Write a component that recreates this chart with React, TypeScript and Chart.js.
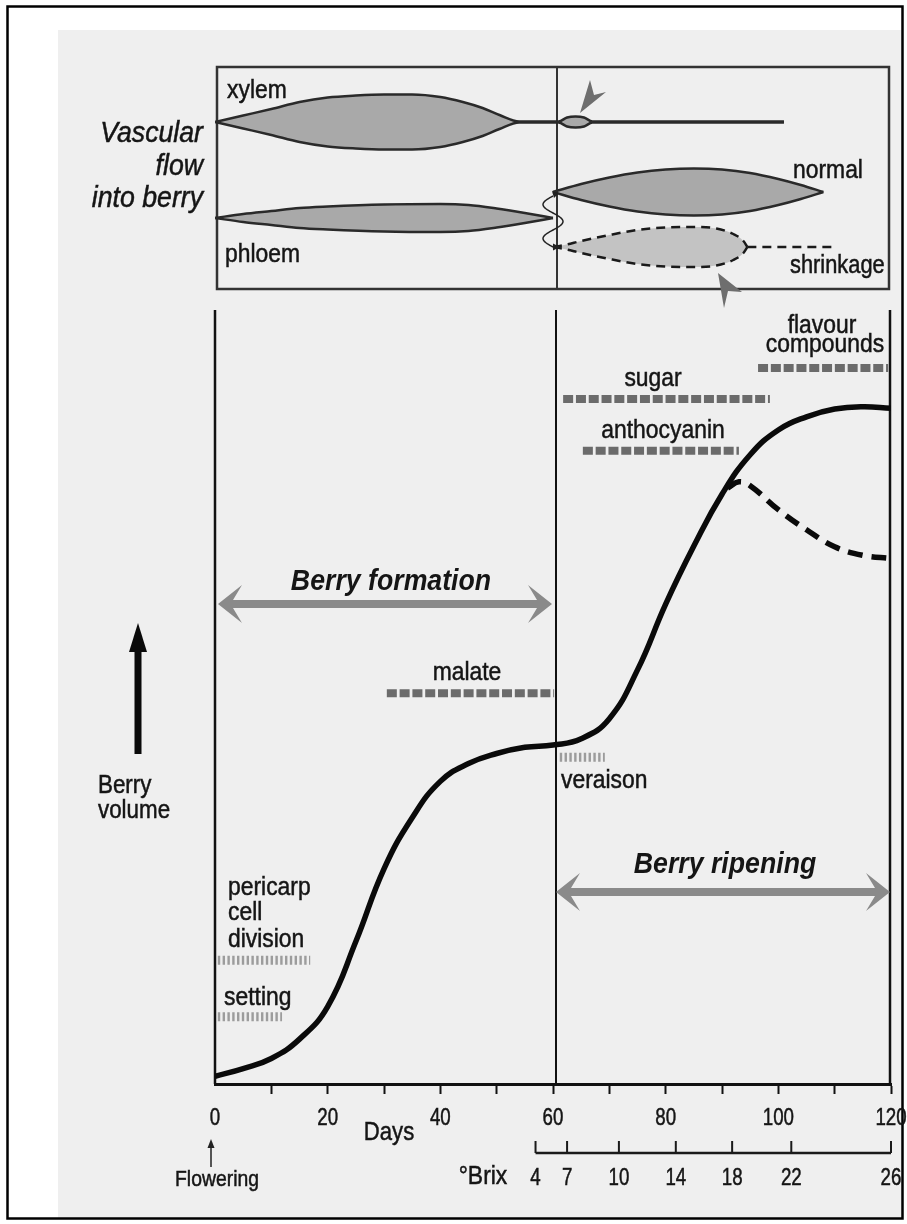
import React, { useEffect, useRef } from 'react';
import { Chart, registerables } from 'chart.js';

Chart.register(...registerables);

// ---------------- DATA ----------------
// Berry volume (relative units; 100 = top of the lower panel)
const volumeDays = [0, 5, 10, 15, 20, 25, 30, 35, 40, 45, 50, 55, 60, 65, 70, 75, 80, 85, 90, 95, 100, 105, 110, 115, 120];
const berryVolume = [1.0, 2.0, 3.3, 5.8, 10.0, 18.4, 27.8, 34.4, 39.1, 41.4, 42.7, 43.5, 43.8, 44.6, 47.2, 53.5, 62.0, 69.5, 76.2, 81.3, 84.5, 86.2, 87.2, 87.5, 87.3];

// Berry volume with shrinkage (dashed branch)
const shrinkBranchDays = [91, 93, 95, 100, 105, 110, 115, 120];
const shrinkBranchVolume = [77.0, 77.8, 77.3, 74.2, 71.6, 69.4, 68.3, 67.9];

// Vascular flow magnitudes (half-width of each band)
const xylemDays = [0, 5, 10, 15, 20, 25, 30, 35, 40, 44, 47.5, 50.5, 54, 61, 62.5, 64, 65.5, 67, 101];
const xylemFlow = [0, 6.5, 13, 20, 24.5, 26.5, 27.5, 27.5, 25, 20, 14, 7, 0.5, 0.5, 4.5, 5.5, 4.5, 0.5, 0.5];

const phloemDays = [0, 5, 10, 15, 20, 30, 40, 45, 50, 55, 60];
const phloemFlow = [0, 4, 7, 10, 11.5, 13.5, 14, 13, 9.5, 5, 0];

const normalDays = [60, 65, 70, 75, 80, 85, 90, 95, 100, 104, 108];
const normalFlow = [0, 8, 14.5, 19.5, 22.5, 23.5, 22.5, 19, 13, 7, 0];

const shrinkDays = [60, 62, 65, 70, 75, 80, 85, 89, 92, 93.8, 94.5];
const shrinkFlow = [0, 2, 6, 12, 17, 19.5, 20, 18.5, 13, 6, 0];
const shrinkTailDays = [94.5, 109.5];

// Developmental processes (timing in days)
const processNames = ['flavour compounds', 'sugar', 'anthocyanin', 'malate', 'veraison', 'pericarp cell division', 'setting'];
const processStart = [96.4, 61.8, 65.3, 30.5, 61.2, 0.5, 0.5];
const processEnd = [119.5, 98.5, 93.0, 60.2, 69.2, 16.9, 11.9];

// Stages
const stageNames = ['Berry formation', 'Berry ripening'];
const stageStart = [0, 60];
const stageEnd = [60, 120];

// Axes
const dayTickLabels = [0, 20, 40, 60, 80, 100, 120];
const brixLabels = [4, 7, 10, 14, 18, 22, 26];
const brixDays = [56.9, 62.5, 71.7, 81.8, 91.8, 102.3, 120];

// ---------------- LAYOUT ----------------
const W = 907;
const H = 1224;
const AREA_TOP = 67;
const AREA_BOTTOM = 1084;
const PANEL_TOP_PX = 310;
const Y_MAX = (100 * (AREA_BOTTOM - AREA_TOP)) / (AREA_BOTTOM - PANEL_TOP_PX);
const YV_MAX = AREA_BOTTOM - AREA_TOP;
const vAt = (py: number) => AREA_BOTTOM - py; // yv value for a pixel row
const XYLEM_C = vAt(122);
const PHLOEM_C = vAt(218);
const NORMAL_C = vAt(192);
const SHRINK_C = vAt(247);
const UPPER_BOTTOM_PX = 289;
const processRow = [92.5, 88.5, 81.8, 50.5, 42.2, 16.0, 8.7];
const processDark = [true, true, true, true, false, false, false];
const stageRow = [62.0, 24.8];

const FONT = "'Liberation Sans', Arial, Helvetica, sans-serif";
type TextSpec = [string, number, number, number, string, CanvasTextAlign, number];
const LABELS: TextSpec[] = [
  ['xylem', 227, 98, 26, 'normal', 'left', 0.88],
  ['phloem', 225, 262, 26, 'normal', 'left', 0.88],
  ['normal', 793, 178, 26, 'normal', 'left', 0.88],
  ['shrinkage', 790, 273, 26, 'normal', 'left', 0.84],
  ['Vascular', 203, 142, 29, 'italic', 'right', 0.92],
  ['flow', 203, 175, 29, 'italic', 'right', 0.92],
  ['into berry', 203, 207, 29, 'italic', 'right', 0.92],
  ['flavour', 822, 333, 26, 'normal', 'center', 0.88],
  ['compounds', 825, 352, 26, 'normal', 'center', 0.88],
  ['sugar', 653, 386, 26, 'normal', 'center', 0.88],
  ['anthocyanin', 663, 438, 26, 'normal', 'center', 0.88],
  ['malate', 467, 680, 26, 'normal', 'center', 0.88],
  ['veraison', 561, 788, 26, 'normal', 'left', 0.88],
  ['pericarp', 228, 895, 26, 'normal', 'left', 0.88],
  ['cell', 228, 920, 26, 'normal', 'left', 0.88],
  ['division', 228, 947, 26, 'normal', 'left', 0.88],
  ['setting', 224, 1005, 26, 'normal', 'left', 0.88],
  ['Berry', 98, 793, 26, 'normal', 'left', 0.86],
  ['volume', 98, 818, 26, 'normal', 'left', 0.86],
  ['Days', 389, 1140, 26, 'normal', 'center', 0.85],
  ['°Brix', 483, 1184, 26, 'normal', 'center', 0.88],
  ['Flowering', 217, 1186, 22, 'normal', 'center', 0.88],
];
const STAGE_LABEL_Y = [590, 873];
const STAGE_LABEL_X = [391, 725];

function drawText(ctx: CanvasRenderingContext2D, s: string, x: number, y: number, size: number, style: string, align: CanvasTextAlign, sx: number) {
  ctx.save();
  ctx.font = `${style} ${size}px ${FONT}`;
  ctx.fillStyle = '#151515';
  ctx.strokeStyle = '#151515';
  ctx.lineWidth = 0.5;
  ctx.textAlign = align;
  ctx.textBaseline = 'alphabetic';
  ctx.translate(x, y);
  ctx.scale(sx, 1);
  ctx.fillText(s, 0, 0);
  if (style.indexOf('bold') < 0) ctx.strokeText(s, 0, 0);
  ctx.restore();
}

function dblArrow(ctx: CanvasRenderingContext2D, x0: number, x1: number, y: number) {
  const hl = 24, hw = 19, sw = 4, notch = 9;
  ctx.save();
  ctx.fillStyle = '#8a8a8a';
  ctx.beginPath();
  ctx.moveTo(x0, y);
  ctx.lineTo(x0 + hl, y - hw);
  ctx.lineTo(x0 + hl - notch, y - sw);
  ctx.lineTo(x1 - hl + notch, y - sw);
  ctx.lineTo(x1 - hl, y - hw);
  ctx.lineTo(x1, y);
  ctx.lineTo(x1 - hl, y + hw);
  ctx.lineTo(x1 - hl + notch, y + sw);
  ctx.lineTo(x0 + hl - notch, y + sw);
  ctx.lineTo(x0 + hl, y + hw);
  ctx.closePath();
  ctx.fill();
  ctx.restore();
}

function pointer(ctx: CanvasRenderingContext2D, pts: number[][]) {
  ctx.save();
  ctx.fillStyle = '#6e6e6e';
  ctx.beginPath();
  ctx.moveTo(pts[0][0], pts[0][1]);
  for (let i = 1; i < pts.length; i++) ctx.lineTo(pts[i][0], pts[i][1]);
  ctx.closePath();
  ctx.fill();
  ctx.restore();
}

const decor = {
  id: 'decor',
  beforeDraw(chart: any) {
    const ctx: CanvasRenderingContext2D = chart.ctx;
    ctx.save();
    ctx.fillStyle = '#ffffff';
    ctx.fillRect(0, 0, W, H);
    ctx.fillStyle = '#efefef';
    ctx.fillRect(58, 30, 845, 1189);
    ctx.strokeStyle = '#000';
    ctx.lineWidth = 2.5;
    ctx.strokeRect(7.5, 6.5, 895, 1212);
    ctx.restore();
  },
  beforeDatasetsDraw(chart: any) {
    const ctx: CanvasRenderingContext2D = chart.ctx;
    const xs = chart.scales.x;
    const ys = chart.scales.y;
    const x0 = xs.getPixelForValue(0);
    const x60 = xs.getPixelForValue(60);
    const x120 = xs.getPixelForValue(120);
    const top = ys.getPixelForValue(100);
    const bottom = ys.getPixelForValue(0);
    ctx.save();
    // upper panel box
    ctx.strokeStyle = '#333';
    ctx.lineWidth = 2.5;
    ctx.strokeRect(x0 + 2, chart.chartArea.top, x120 - x0 - 4, UPPER_BOTTOM_PX - chart.chartArea.top);
    ctx.lineWidth = 2;
    ctx.beginPath();
    ctx.moveTo(x60 + 4, chart.chartArea.top);
    ctx.lineTo(x60 + 4, UPPER_BOTTOM_PX);
    ctx.stroke();
    // lower panel lines
    ctx.strokeStyle = '#111';
    ctx.lineWidth = 2.5;
    ctx.beginPath();
    ctx.moveTo(x0, top);
    ctx.lineTo(x0, bottom);
    ctx.moveTo(x120 - 1, top);
    ctx.lineTo(x120 - 1, bottom);
    ctx.stroke();
    ctx.lineWidth = 2;
    ctx.beginPath();
    ctx.moveTo(x60 + 3, top);
    ctx.lineTo(x60 + 3, bottom);
    ctx.stroke();
    ctx.restore();
  },
  afterDatasetsDraw(chart: any) {
    const ctx: CanvasRenderingContext2D = chart.ctx;
    const xs = chart.scales.x;
    const ys = chart.scales.y;
    // stage arrows + labels
    stageNames.forEach((name, i) => {
      const a = xs.getPixelForValue(stageStart[i]) + 3;
      const b = xs.getPixelForValue(stageEnd[i]) - 1;
      dblArrow(ctx, a, b, ys.getPixelForValue(stageRow[i]));
      drawText(ctx, name, STAGE_LABEL_X[i], STAGE_LABEL_Y[i], 30, 'italic bold', 'center', 0.89);
    });
    // text labels
    LABELS.forEach((l) => drawText(ctx, l[0], l[1], l[2], l[3], l[4], l[5], l[6]));
    // day tick labels
    dayTickLabels.forEach((d) => drawText(ctx, String(d), xs.getPixelForValue(d), 1125, 24, 'normal', 'center', 0.78));
    // Brix axis
    const yb = 1153;
    ctx.save();
    ctx.strokeStyle = '#1a1a1a';
    ctx.lineWidth = 2.5;
    ctx.beginPath();
    ctx.moveTo(xs.getPixelForValue(brixDays[0]), yb);
    ctx.lineTo(xs.getPixelForValue(brixDays[brixDays.length - 1]), yb);
    ctx.stroke();
    ctx.lineWidth = 2;
    ctx.beginPath();
    brixDays.forEach((d) => {
      const px = xs.getPixelForValue(d);
      ctx.moveTo(px, yb);
      ctx.lineTo(px, yb - 12);
    });
    ctx.stroke();
    ctx.restore();
    brixLabels.forEach((b, i) => drawText(ctx, String(b), xs.getPixelForValue(brixDays[i]), 1185, 24, 'normal', 'center', 0.78));
    // Flowering arrow
    ctx.save();
    ctx.strokeStyle = '#222';
    ctx.fillStyle = '#222';
    ctx.lineWidth = 1.5;
    const fx = xs.getPixelForValue(0) - 4;
    ctx.beginPath();
    ctx.moveTo(fx, 1167);
    ctx.lineTo(fx, 1144);
    ctx.stroke();
    ctx.beginPath();
    ctx.moveTo(fx, 1139);
    ctx.lineTo(fx - 3.5, 1148);
    ctx.lineTo(fx + 3.5, 1148);
    ctx.closePath();
    ctx.fill();
    ctx.restore();
    // Berry volume arrow
    ctx.save();
    ctx.fillStyle = '#0a0a0a';
    ctx.fillRect(134.5, 648, 7, 106);
    ctx.beginPath();
    ctx.moveTo(138, 623);
    ctx.lineTo(129, 652);
    ctx.lineTo(147, 652);
    ctx.closePath();
    ctx.fill();
    ctx.restore();
    // wavy arrows at veraison (phloem switching)
    ctx.save();
    ctx.strokeStyle = '#222';
    ctx.fillStyle = '#222';
    ctx.lineWidth = 1.5;
    ctx.beginPath();
    const cx = xs.getPixelForValue(60);
    for (let k = 0; k <= 60; k++) {
      const t = k / 60;
      const px = cx + 10 * Math.sin(Math.PI + 3 * Math.PI * t);
      const py = 196 + 51 * t;
      if (k === 0) ctx.moveTo(px, py); else ctx.lineTo(px, py);
    }
    ctx.stroke();
    ctx.beginPath();
    ctx.moveTo(cx + 6, 193);
    ctx.lineTo(cx - 1, 191);
    ctx.lineTo(cx + 1, 198);
    ctx.closePath();
    ctx.fill();
    ctx.beginPath();
    ctx.moveTo(cx + 7, 247);
    ctx.lineTo(cx, 243.5);
    ctx.lineTo(cx, 250.5);
    ctx.closePath();
    ctx.fill();
    ctx.restore();
    // grey pointers
    pointer(ctx, [[580, 113], [590, 80], [594, 95], [606, 92]]);
    pointer(ctx, [[718, 273], [742, 292], [728, 291], [724, 308]]);
  },
};

function band(days: number[], flow: number[], c: number, sign: number) {
  return days.map((d, i) => ({ x: d, y: c + sign * flow[i] }));
}

export default function App() {
  const ref = useRef<HTMLCanvasElement>(null);
  useEffect(() => {
    const lens = {
      borderColor: '#2a2a2a',
      borderWidth: 2.5,
      pointRadius: 0,
      cubicInterpolationMode: 'monotone',
      yAxisID: 'yv',
      fill: false,
      order: 3,
    };
    const dashedLens = { ...lens, borderDash: [9, 6], borderColor: '#1a1a1a' };
    const datasets: any[] = [
      // 0-1 xylem
      { ...lens, data: band(xylemDays, xylemFlow, XYLEM_C, 1) },
      { ...lens, data: band(xylemDays, xylemFlow, XYLEM_C, -1), fill: '-1', backgroundColor: '#a9a9a9' },
      // 2-3 phloem
      { ...lens, data: band(phloemDays, phloemFlow, PHLOEM_C, 1) },
      { ...lens, data: band(phloemDays, phloemFlow, PHLOEM_C, -1), fill: '-1', backgroundColor: '#a9a9a9' },
      // 4-5 normal
      { ...lens, data: band(normalDays, normalFlow, NORMAL_C, 1) },
      { ...lens, data: band(normalDays, normalFlow, NORMAL_C, -1), fill: '-1', backgroundColor: '#a9a9a9' },
      // 6-7 shrinkage
      { ...dashedLens, data: band(shrinkDays, shrinkFlow, SHRINK_C, 1) },
      { ...dashedLens, data: band(shrinkDays, shrinkFlow, SHRINK_C, -1), fill: '-1', backgroundColor: '#c3c3c3' },
      // 8 shrinkage tail
      { ...dashedLens, data: shrinkTailDays.map((d) => ({ x: d, y: SHRINK_C })) },
    ];
    processNames.forEach((name, i) => {
      datasets.push({
        label: name,
        data: [{ x: processStart[i], y: processRow[i] }, { x: processEnd[i], y: processRow[i] }],
        yAxisID: 'y',
        borderColor: processDark[i] ? '#6b6b6b' : '#9c9c9c',
        borderWidth: processDark[i] ? 8 : 9,
        borderDash: processDark[i] ? [10, 2.8] : [2.4, 2.4],
        borderCapStyle: 'butt',
        pointRadius: 0,
        fill: false,
        order: 5,
      });
    });
    datasets.push({
      label: 'Berry volume',
      data: volumeDays.map((d, i) => ({ x: d, y: berryVolume[i] })),
      yAxisID: 'y',
      borderColor: '#0a0a0a',
      borderWidth: 5.5,
      tension: 0.45,
      pointRadius: 0,
      fill: false,
      order: 0,
    });
    datasets.push({
      label: 'Shrinkage',
      data: shrinkBranchDays.map((d, i) => ({ x: d, y: shrinkBranchVolume[i] })),
      yAxisID: 'y',
      borderColor: '#0a0a0a',
      borderWidth: 5.5,
      borderDash: [15, 9],
      tension: 0.4,
      pointRadius: 0,
      fill: false,
      order: 1,
    });

    const chart = new Chart(ref.current as HTMLCanvasElement, {
      type: 'line',
      data: { datasets },
      options: {
        responsive: false,
        animation: false,
        events: [],
        layout: { padding: { left: 215, right: 16, top: AREA_TOP, bottom: H - AREA_BOTTOM - 50 } },
        plugins: {
          legend: { display: false },
          tooltip: { enabled: false },
          filler: { drawTime: 'beforeDatasetsDraw' },
        },
        scales: {
          x: {
            type: 'linear',
            min: 0,
            max: 120,
            position: 'bottom',
            afterFit: (s: any) => {
              s.height = 50;
            },
            border: { display: true, color: '#111', width: 3 },
            grid: {
              drawOnChartArea: false,
              drawTicks: true,
              tickLength: 10,
              tickWidth: 2,
              tickColor: (c: any) => (c.tick && c.tick.value === 0 ? 'rgba(0,0,0,0)' : '#111'),
            },
            ticks: { display: false, stepSize: 10, autoSkip: false },
          },
          y: { type: 'linear', min: 0, max: Y_MAX, display: false },
          yv: { type: 'linear', min: 0, max: YV_MAX, display: false },
        },
      } as any,
      plugins: [decor],
    });
    return () => chart.destroy();
  }, []);
  return (
    <div style={{ position: 'absolute', left: 0, top: 0, width: W, height: H, background: '#fff' }}>
      <canvas ref={ref} width={W} height={H} style={{ display: 'block', width: W, height: H }} />
    </div>
  );
}
